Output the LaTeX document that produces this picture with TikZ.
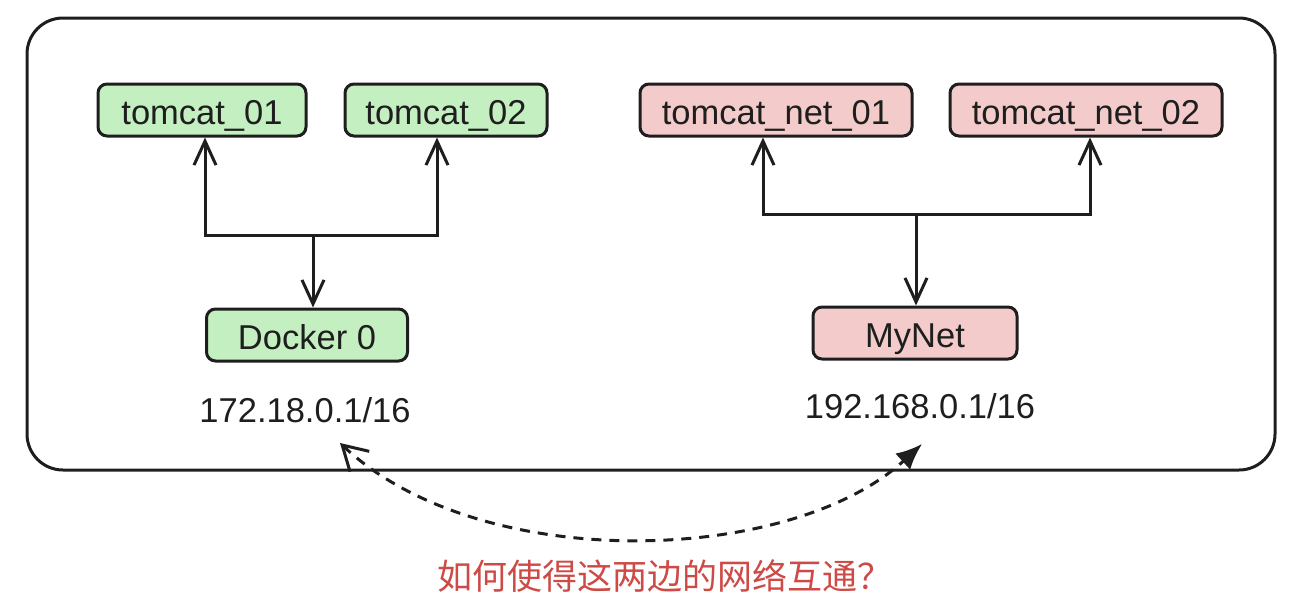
\documentclass[tikz,border=0pt]{standalone}
\usepackage{fontspec}
\setmainfont{Liberation Sans}
\newfontfamily\cjk{Noto Sans CJK SC}
\usetikzlibrary{arrows.meta, positioning}
\usepackage{xcolor}
\definecolor{boxgreen}{HTML}{C4EFC1}
\definecolor{boxred}{HTML}{F3CBCB}
\definecolor{inkdark}{HTML}{1E1E1E}
\definecolor{asktext}{HTML}{CD4A46}

\begin{document}
\begin{tikzpicture}[
      x=1pt, y=-1pt,
      netbox/.style={rectangle, rounded corners=9pt, draw=inkdark, line width=3pt, text=inkdark, minimum height=52pt, inner sep=0pt, text height=28pt, text depth=0pt, font=\fontsize{34.5}{40}\selectfont},
      greenbox/.style={netbox, fill=boxgreen},
      redbox/.style={netbox, fill=boxred},
      iptext/.style={text=inkdark, font=\fontsize{34.5}{40}\selectfont},
      arrow/.style={-{Straight Barb[length=24pt, width=22pt]}, line width=3pt, inkdark},
      frame/.style={draw=inkdark, line width=3pt, rounded corners=36pt},
    ]
    \useasboundingbox (0,0) rectangle (1295,603);

    % outer frame
    \draw[frame] (27,18) rectangle (1275,470);

    % left network
    \node[greenbox, minimum width=208pt] (tc1) at (202,110) {tomcat\_01};
    \node[greenbox, minimum width=202pt] (tc2) at (446,110) {tomcat\_02};
    \node[greenbox, minimum width=201pt] (dk) at (307,335) {Docker 0};
    \node[iptext] (ip1) at (305,410) {172.18.0.1/16};

    % right network
    \node[redbox, minimum width=272pt] (tn1) at (776,110) {tomcat\_net\_01};
    \node[redbox, minimum width=272pt] (tn2) at (1086,110) {tomcat\_net\_02};
    \node[redbox, minimum width=204pt] (mn) at (915,333) {MyNet};
    \node[iptext] (ip2) at (920,406) {192.168.0.1/16};

    \coordinate (jl) at (313,235);
    \coordinate (jr) at (916,214);

    \draw[arrow] (jl) -| ([xshift=3pt]tc1.south);
    \draw[arrow] (jl) -| ([xshift=-9pt]tc2.south);
    \draw[arrow] (jl) -- (jl |- dk.north);

    \draw[arrow] (jr) -| ([xshift=-13pt]tn1.south);
    \draw[arrow] (jr) -| ([xshift=4pt]tn2.south);
    \draw[arrow] (jr) -- (jr |- mn.north);

    % question
    \node[text=asktext, font=\cjk\fontsize{35}{42}\selectfont] (ask) at (665,576) {如何使得这两边的网络互通？};

    \coordinate (cl) at (340,443);
    \coordinate (cr) at (922,444);
    \draw[{Straight Barb[length=24pt, width=28pt]}-{Latex[length=26pt, width=22pt]}, line width=3pt, inkdark, dash pattern=on 10pt off 8pt]
      (cl) .. controls (480,575) and (790,565) .. (cr);
  \end{tikzpicture}
\end{document}
